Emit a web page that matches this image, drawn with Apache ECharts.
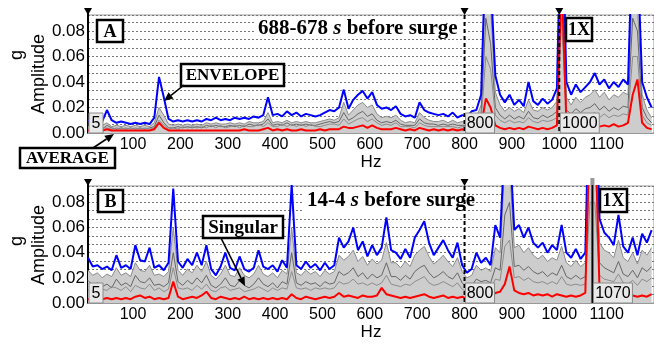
<!DOCTYPE html>
<html><head><meta charset="utf-8">
<script src="https://cdn.jsdelivr.net/npm/echarts@6/dist/echarts.min.js"></script>
<style>html,body{margin:0;padding:0;background:#fff}#c{width:654px;height:345px}</style>
</head><body><div id="c"></div>
<script>
// Frequency bins (Hz)
const freqs = [5,15,25,35,45,55,65,75,85,95,105,115,125,135,145,155,165,175,185,195,
205,215,225,235,245,255,265,275,285,295,305,315,325,335,345,355,365,375,385,395,
405,415,425,435,445,455,465,475,485,495,505,515,525,535,545,555,565,575,585,595,
605,615,625,635,645,655,665,675,685,695,705,715,725,735,745,755,765,775,785,795,
805,815,825,835,845,855,865,875,885,895,905,915,925,935,945,955,965,975,985,995,
1005,1015,1025,1035,1045,1055,1065,1075,1085,1095,1105,1115,1125,1135,1145,1155,1165,1175,1185,1195];

// Panel A (688-678 s before surge), amplitudes in mg
const aEnvelope = [10,9,10,9,18,10,8,9,8,7, 8,7,8,7,12,44,28,11,9,10,
9,10,9,10,9,11,10,12,10,11, 10,12,11,12,11,13,12,14,28,14,
15,13,17,14,16,13,15,14,13,14, 16,18,17,20,34,19,26,30,33,27,
32,22,19,20,18,21,15,13,14,12, 24,18,16,15,14,15,13,16,12,14,
13,17,18,30,150,120,45,30,24,30, 22,26,21,40,25,22,27,23,26,35,
200,40,30,38,32,36,40,47,38,42, 35,40,36,42,38,160,140,40,28,20];
const aAverage = [2,2,2,2,3,2,2,2,2,2, 2,2,2,2,3,8,4,2,2,2,
2,2,2,2,2,2,2,2,2,2, 2,2,2,3,2,2,2,3,4,2,
3,2,3,2,2,3,2,2,2,3, 2,3,3,3,5,4,4,5,6,4,
6,4,3,3,3,4,3,2,3,2, 4,3,2,3,2,3,2,3,2,3,
2,3,3,5,27,20,6,4,3,4, 3,4,3,5,4,3,4,3,4,6,
120,8,5,6,5,6,5,7,5,6, 5,7,5,6,8,30,42,8,4,3];
const aSingularTop = [5,6,5,6,8,5,6,5,6,5, 6,5,6,5,8,20,14,7,6,7,
6,7,6,7,6,8,7,8,7,7, 8,7,8,7,9,8,8,9,16,8,
9,8,10,8,9,8,9,8,8,9, 10,11,10,12,24,14,18,22,24,20,
22,15,12,13,12,14,10,8,9,8, 16,12,10,9,9,10,8,10,8,9,
8,10,12,22,130,100,32,22,17,20, 17,19,16,26,18,17,20,18,20,25,
160,28,22,28,24,28,30,34,28,32, 26,30,28,32,30,120,100,30,18,12];
const aSingularMid = [4,3,4,3,6,4,3,4,3,4, 3,4,3,4,5,14,8,4,4,5,
4,5,4,5,4,6,5,6,5,5, 6,5,6,5,7,6,6,7,11,6,
7,6,8,6,7,6,7,6,6,7, 8,9,8,9,16,10,12,15,17,13,
15,10,8,9,8,10,7,6,6,6, 11,8,7,7,6,7,6,7,6,6,
6,7,8,15,90,70,20,14,11,14, 11,13,11,17,12,11,14,12,14,17,
130,18,15,19,16,19,20,23,18,21, 17,20,18,21,20,90,80,20,12,8];
const aSingularLow = [3,4,3,4,4,3,4,3,4,3, 4,3,4,3,4,10,6,3,4,3,
5,4,5,4,5,4,6,4,6,4, 5,6,4,6,5,5,7,5,8,5,
5,7,5,7,5,7,5,7,5,5, 6,7,7,6,11,7,9,11,12,9,
11,8,6,7,6,8,5,5,5,4, 8,6,5,5,5,5,5,5,4,5,
5,5,6,10,60,50,14,10,8,10, 8,9,8,12,9,8,10,9,10,12,
90,12,10,13,11,13,14,16,12,15, 12,14,13,15,14,60,60,14,8,6];

// Panel B (14-4 s before surge), amplitudes in mg
const bEnvelope = [36,29,30,27,29,26,38,28,30,27, 46,34,33,44,28,30,26,32,91,33,
28,35,30,40,30,46,27,22,29,40, 28,26,37,27,25,28,42,29,27,30,
25,34,28,94,30,27,33,28,31,26, 32,27,30,52,44,49,60,42,49,37,
46,38,44,68,42,40,35,43,36,52, 58,65,48,38,44,50,42,36,48,30,
24,27,40,32,36,30,62,52,130,130, 58,62,52,60,48,44,48,40,46,42,
62,40,36,43,35,40,200,200,67,56, 52,46,70,45,40,52,38,55,48,58];
const bAverage = [3,3,3,3,4,3,4,3,4,3, 5,6,4,5,3,4,3,4,17,5,
3,4,5,4,6,9,4,3,5,4, 3,4,3,5,3,4,3,4,3,4,
3,4,3,7,4,3,5,4,3,4, 5,4,5,8,5,6,5,4,6,5,
5,6,12,7,6,5,4,5,4,5, 6,7,5,4,5,6,4,5,4,5,
3,3,3,3,3,4,8,9,15,29, 10,8,7,8,6,7,6,7,5,7,
6,5,6,5,6,8,150,150,10,7, 6,5,7,6,5,6,5,6,5,7];
const bSingularTop = [26,22,24,20,23,21,28,22,24,21, 32,26,25,30,22,23,21,25,60,26,
22,27,24,30,25,33,22,19,23,30, 22,21,28,22,20,23,30,23,21,24,
20,26,23,60,24,22,26,23,25,21, 26,23,25,38,34,37,42,33,37,30,
35,31,34,48,32,32,28,33,29,38, 42,45,37,31,34,38,33,29,36,25,
20,22,30,26,28,25,44,40,110,110, 44,46,40,44,38,35,38,33,36,34,
45,32,29,34,29,32,160,160,48,42, 40,36,50,36,33,40,31,42,38,44];
const bSingularMid = [18,14,16,13,15,12,19,14,16,13, 22,17,16,20,14,15,13,16,40,17,
14,18,15,20,16,22,14,12,15,20, 14,13,18,14,12,15,20,15,13,16,
12,17,15,40,16,14,17,15,16,13, 17,15,16,25,22,24,28,21,24,19,
23,20,22,32,21,21,18,22,19,25, 28,30,24,20,22,25,21,19,24,16,
12,14,19,17,18,16,28,26,70,80, 29,30,26,29,25,23,25,21,24,22,
30,21,19,22,19,21,120,120,32,28, 26,24,33,23,21,26,20,28,25,29];
const bSingularLow = [10,12,9,11,10,13,12,10,13,9, 14,12,11,15,10,12,9,11,28,12,
11,12,10,14,11,15,10,9,12,13, 10,11,12,9,10,11,13,11,9,12,
10,12,11,25,12,11,12,10,12,11, 12,11,12,17,15,16,19,15,16,14,
16,14,16,22,15,14,13,15,14,17, 19,21,16,14,15,17,15,13,16,11,
9,10,13,12,13,11,19,18,45,50, 20,21,18,20,17,16,17,15,17,15,
21,15,14,15,14,15,80,80,22,19, 18,17,23,16,15,18,14,19,17,20];

const yTickValues = [0,20,40,60,80];      // mg -> shown as 0.00 ... 0.08 g
const cursorsA = [800, 1000];
const cursorsB = [800, 1070];

const chart = echarts.init(document.getElementById('c'));
const pairs = v => freqs.map((f,i)=>[f, v[i]]);

function xAx(gi){
  return {type:'value', gridIndex:gi, min:5, max:1200, splitNumber:12,
    axisLine:{show:true, lineStyle:{color:'#999', width:1}}, axisTick:{show:false}, splitLine:{show:false},
    axisLabel:{showMinLabel:false, showMaxLabel:false, formatter:v=>String(v), color:'#000', fontSize:16, fontFamily:'Liberation Sans', margin:4},
    name:'Hz', nameLocation:'middle', nameGap:18,
    nameTextStyle:{fontSize:17, color:'#000', fontFamily:'Liberation Sans'}};
}
function yAx(gi, max){
  return {type:'value', gridIndex:gi, min:0, max:max, interval:20,
    axisLine:{show:true, onZero:false, lineStyle:{color:'#000', width:2}}, axisTick:{show:false},
    axisLabel:{showMaxLabel:false, formatter:v=>(v/1000).toFixed(2), color:'#000', fontSize:17, fontFamily:'Liberation Sans', margin:3},
    splitLine:{show:true, lineStyle:{color:'#777', type:[2,2], width:1}},
    minorTick:{show:false, splitNumber:3},
    minorSplitLine:{show:true, lineStyle:{color:'#777', type:[2,2], width:1}}};
}
function panelSeries(gi, top, mid, low, env, avg){
  const base = {type:'line', xAxisIndex:gi, yAxisIndex:gi, showSymbol:false, symbol:'none', animation:false, silent:true};
  return [
    Object.assign({}, base, {data:pairs(top), lineStyle:{color:'#8a8a8a', width:1}, areaStyle:{color:'#cdcdcd', opacity:1}, z:2}),
    Object.assign({}, base, {data:pairs(mid), lineStyle:{color:'#666', width:1}, z:3}),
    Object.assign({}, base, {data:pairs(low), lineStyle:{color:'#8c8c8c', width:1}, z:3}),
    Object.assign({}, base, {data:pairs(env), lineStyle:{color:'#0000ff', width:2}, z:4}),
    Object.assign({}, base, {data:pairs(avg), lineStyle:{color:'#ff0000', width:2}, z:5})
  ];
}

chart.setOption({
  animation:false,
  backgroundColor:'#fff',
  grid:[
    {left:88, top:15, width:566, height:118, show:true, borderColor:'#999', borderWidth:1},
    {left:88, top:186, width:566, height:117, show:true, borderColor:'#999', borderWidth:1}
  ],
  xAxis:[xAx(0), xAx(1)],
  yAxis:[yAx(0, 92.5), yAx(1, 93)],
  series:[].concat(panelSeries(0, aSingularTop, aSingularMid, aSingularLow, aEnvelope, aAverage),
                   panelSeries(1, bSingularTop, bSingularMid, bSingularLow, bEnvelope, bAverage))
});

// ---------- annotations ----------
const G = [];
const serif = 'Liberation Serif', sans = 'Liberation Sans';
function box(x,y,w,h,text,size){
  G.push({type:'rect', shape:{x,y,width:w,height:h}, style:{fill:'#fff', stroke:'#000', lineWidth:2.5}, z:100});
  G.push({type:'text', x:x+w/2, y:y+h/2+1, style:{text, fontSize:size, fontWeight:'bold', fontFamily:serif, fill:'#000', align:'center', verticalAlign:'middle'}, z:101});
}
function arrow(x1,y1,x2,y2){
  const a=Math.atan2(y2-y1,x2-x1), L=9, W=4;
  const bx=x2-L*Math.cos(a), by=y2-L*Math.sin(a);
  G.push({type:'line', shape:{x1,y1,x2:bx,y2:by}, style:{stroke:'#000', lineWidth:1.6}, z:100});
  G.push({type:'polygon', shape:{points:[[x2,y2],[bx+W*Math.sin(a),by-W*Math.cos(a)],[bx-W*Math.sin(a),by+W*Math.cos(a)]]}, style:{fill:'#000'}, z:100});
}
function tri(x,y){ G.push({type:'polygon', shape:{points:[[x-4,y],[x+4,y],[x,y+7]]}, style:{fill:'#000'}, z:60}); }
function valBox(x,yb,w,text){
  G.push({type:'rect', shape:{x:x, y:yb-20, width:w, height:20}, style:{fill:'#e8e8e8', stroke:'#8a8a8a', lineWidth:1}, z:90});
  G.push({type:'text', x:x+w/2, y:yb-9.5, style:{text, fontSize:16, fontFamily:sans, fill:'#000', align:'center', verticalAlign:'middle'}, z:91});
}
function ytitle(cx, cy, text){
  G.push({type:'text', x:cx, y:cy, rotation:Math.PI/2, style:{text, fontSize:18, fontFamily:sans, fill:'#000', align:'center', verticalAlign:'middle'}, z:50});
}

const panels = [
  {gi:0, cursors:cursorsA, dashed:[true,true]},
  {gi:1, cursors:cursorsB, dashed:[true,false]}
];
panels.forEach(p=>{
  const yb = chart.convertToPixel({yAxisIndex:p.gi}, 0);
  const yt = chart.convertToPixel({yAxisIndex:p.gi}, p.gi===0?92.5:93);
  const x0 = chart.convertToPixel({xAxisIndex:p.gi}, 5);
  G.push({type:'line', shape:{x1:x0, y1:yt-7, x2:x0, y2:yt}, style:{stroke:'#000', lineWidth:2}, z:60});
  tri(x0, yt-7);
  p.cursors.forEach((c,k)=>{
    const xc = chart.convertToPixel({xAxisIndex:p.gi}, c);
    G.push({type:'line', shape:{x1:xc, y1:yt-7, x2:xc, y2:yb}, style:{stroke:'#000', lineWidth:2, lineDash:p.dashed[k]?[4,3]:null}, z:60});
    if (p.gi===1 && k===1) {
      G.push({type:'rect', shape:{x:xc-2, y:yt-8, width:4, height:7}, style:{fill:'#999'}, z:60});
    } else tri(xc, yt-7);
    valBox(xc+1, yb, String(c).length>3?39:29, String(c));
  });
  valBox(x0+1, yb, 14, '5');
});

// y titles
ytitle(17, 55, 'g'); ytitle(39, 74, 'Amplitude');
ytitle(17, 241, 'g'); ytitle(39, 245, 'Amplitude');

// Panel A texts
G.push({type:'rect', shape:{x:254, y:17, width:208, height:22}, style:{fill:'#fff'}, z:95});
G.push({type:'text', x:258, y:29, style:{text:'688-678 {i|s} before surge', fontSize:21, fontWeight:'bold', fontFamily:serif, fill:'#000', align:'left', verticalAlign:'middle',
  rich:{i:{fontSize:21, fontWeight:'bold', fontStyle:'italic', fontFamily:serif, fill:'#000'}}}, z:96});
box(97,20,26,22,'A',18);
box(566,18,26,23,'1X',18);
box(181,64,103,22,'ENVELOPE',17);
box(20,148,95,20,'AVERAGE',17);
arrow(184,85,164,101);
arrow(93,148,114,134);

// Panel B texts
G.push({type:'rect', shape:{x:302, y:189, width:161, height:22}, style:{fill:'#fff'}, z:95});
G.push({type:'text', x:307, y:201, style:{text:'14-4 {i|s} before surge', fontSize:21, fontWeight:'bold', fontFamily:serif, fill:'#000', align:'left', verticalAlign:'middle',
  rich:{i:{fontSize:21, fontWeight:'bold', fontStyle:'italic', fontFamily:serif, fill:'#000'}}}, z:96});
box(98,190,25,22,'B',18);
box(600,189,27,23,'1X',18);
box(203,216,80,22,'Singular',19);
arrow(221,238,245,286);

chart.setOption({graphic:{elements:G}});
</script></body></html>
